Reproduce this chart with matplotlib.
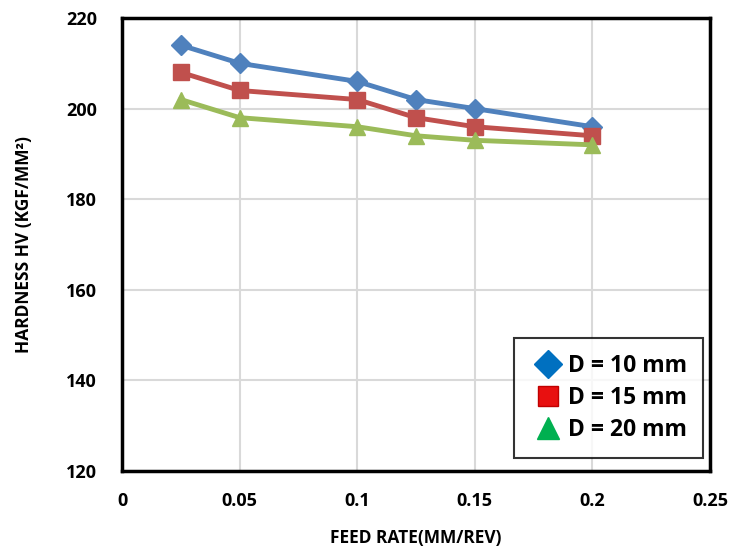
import matplotlib
matplotlib.use("Agg")
import matplotlib.pyplot as plt
from matplotlib.lines import Line2D

plt.rcParams['font.family'] = ['Open Sans', 'DejaVu Sans']

feed = [0.025, 0.05, 0.1, 0.125, 0.15, 0.2]
d10 = [214, 210, 206, 202, 200, 196]
d15 = [208, 204, 202, 198, 196, 194]
d20 = [202, 198, 196, 194, 193, 192]
labels = ["D = 10 mm", "D = 15 mm", "D = 20 mm"]
xticks = [0, 0.05, 0.1, 0.15, 0.2, 0.25]
xticklabels = ["0", "0.05", "0.1", "0.15", "0.2", "0.25"]
yticks = [120, 140, 160, 180, 200, 220]

fig = plt.figure(figsize=(7.42, 5.53), dpi=100)
ax = fig.add_axes([122/742, 1-471/553, (710-122)/742, (471-18)/553])

ax.plot(feed, d10, color='#4F81BD', lw=3.5, marker='D', ms=10, zorder=3)
ax.plot(feed, d15, color='#C0504D', lw=3.5, marker='s', ms=11, zorder=3)
ax.plot(feed, d20, color='#9BBB59', lw=3.5, marker='^', ms=12, zorder=3)

ax.set_xlim(0, 0.25)
ax.set_ylim(120, 220)
ax.set_xticks(xticks)
ax.set_xticklabels(xticklabels)
ax.set_yticks(yticks)
ax.grid(True, color='#D9D9D9', lw=1.5)
ax.set_axisbelow(True)
ax.tick_params(axis='x', length=0, labelsize=13, pad=15)
ax.tick_params(axis='y', length=0, labelsize=13, pad=18)
for lab in ax.get_xticklabels() + ax.get_yticklabels():
    lab.set_fontweight('bold')
for s in ax.spines.values():
    s.set_linewidth(2.5)
    s.set_color('black')

ax.set_xlabel("FEED RATE(MM/REV)", fontsize=12.5, fontweight='bold', labelpad=14)
ax.set_ylabel("HARDNESS HV (KGF/MM²)", fontsize=12.5, fontweight='bold', labelpad=24)

handles = [
    Line2D([], [], ls='none', marker='D', color='#0070C0', ms=14),
    Line2D([], [], ls='none', marker='s', color='#E81010', markeredgecolor='#C00000', ms=14),
    Line2D([], [], ls='none', marker='^', color='#00B050', ms=16),
]
leg = ax.legend(handles, labels, loc='lower right', bbox_to_anchor=(0.988, 0.029),
                borderaxespad=0,
                prop={'weight': 'bold', 'size': 16.5}, frameon=True, fancybox=False,
                handlelength=1.6, handletextpad=0.05, borderpad=0.7, labelspacing=0.35)
leg.get_frame().set_edgecolor('black')
leg.get_frame().set_linewidth(1.5)

fig.savefig("out.png", dpi=100)
